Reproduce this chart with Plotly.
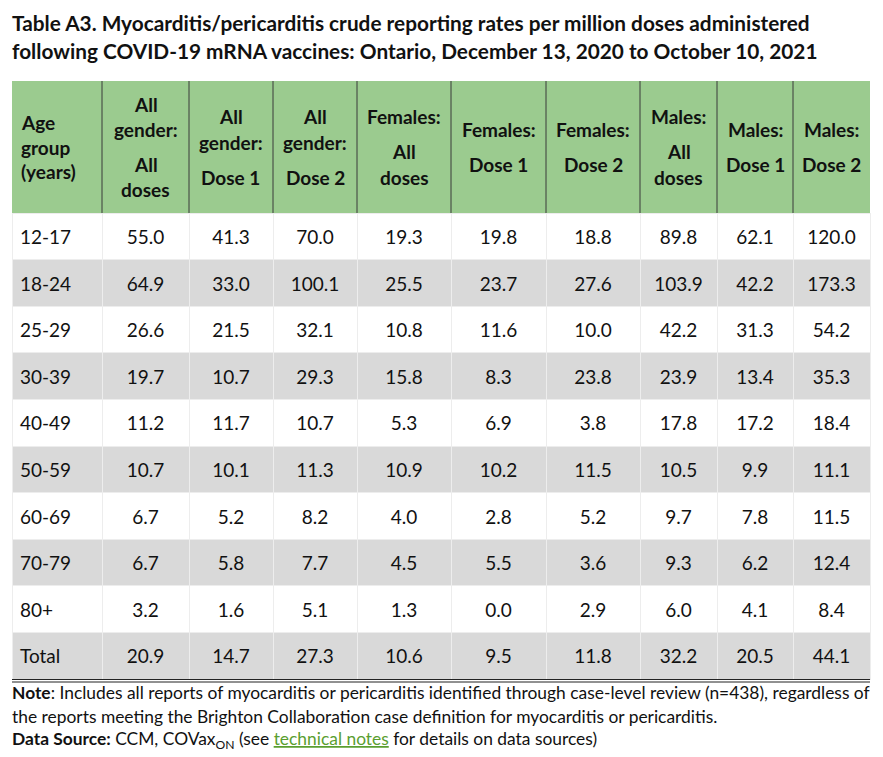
import plotly.graph_objects as go

# ---------------- data ----------------
age_groups = ["12-17", "18-24", "25-29", "30-39", "40-49", "50-59", "60-69", "70-79", "80+", "Total"]
all_gender_all_doses = [55.0, 64.9, 26.6, 19.7, 11.2, 10.7, 6.7, 6.7, 3.2, 20.9]
all_gender_dose1 = [41.3, 33.0, 21.5, 10.7, 11.7, 10.1, 5.2, 5.8, 1.6, 14.7]
all_gender_dose2 = [70.0, 100.1, 32.1, 29.3, 10.7, 11.3, 8.2, 7.7, 5.1, 27.3]
females_all_doses = [19.3, 25.5, 10.8, 15.8, 5.3, 10.9, 4.0, 4.5, 1.3, 10.6]
females_dose1 = [19.8, 23.7, 11.6, 8.3, 6.9, 10.2, 2.8, 5.5, 0.0, 9.5]
females_dose2 = [18.8, 27.6, 10.0, 23.8, 3.8, 11.5, 5.2, 3.6, 2.9, 11.8]
males_all_doses = [89.8, 103.9, 42.2, 23.9, 17.8, 10.5, 9.7, 9.3, 6.0, 32.2]
males_dose1 = [62.1, 42.2, 31.3, 13.4, 17.2, 9.9, 7.8, 6.2, 4.1, 20.5]
males_dose2 = [120.0, 173.3, 54.2, 35.3, 18.4, 11.1, 11.5, 12.4, 8.4, 44.1]

# header labels: paragraphs of lines
header_labels = [
    [["Age", "group", "(years)"]],
    [["All", "gender:"], ["All", "doses"]],
    [["All", "gender:"], ["Dose 1"]],
    [["All", "gender:"], ["Dose 2"]],
    [["Females:"], ["All", "doses"]],
    [["Females:"], ["Dose 1"]],
    [["Females:"], ["Dose 2"]],
    [["Males:"], ["All", "doses"]],
    [["Males:"], ["Dose 1"]],
    [["Males:"], ["Dose 2"]],
]

title_lines = [
    "Table A3. Myocarditis/pericarditis crude reporting rates per million doses administered",
    "following COVID-19 mRNA vaccines: Ontario, December 13, 2020 to October 10, 2021",
]
note_lines = [
    "<b>Note</b>: Includes all reports of myocarditis or pericarditis identified through case-level review (n=438), regardless of",
    "the reports meeting the Brighton Collaboration case definition for myocarditis or pericarditis.",
    "<b>Data Source:</b> CCM, COVax<sub>ON</sub> (see <span style='color:#5A9E2F;text-decoration:underline'>technical notes</span> for details on data sources)",
]

# ---------------- layout constants ----------------
OFF = 8                      # page margin of the html body
W, H = 883 - OFF, 757 - OFF
FONT = "Lato, Calibri, Carlito, sans-serif"
col_px = [90, 87, 84, 84, 94, 95, 94, 77, 76, 77]
tbl_left, tbl_top = 12, 81
header_h = 132
row_h = 46.6
n_rows = len(age_groups)
tbl_right = tbl_left + sum(col_px)
tbl_bottom = tbl_top + header_h + row_h * n_rows

GREEN = "#9BCB8F"
GRAY = "#D9D9D9"
BODY_SIZE = 19
LEAD_SIZE = 10

def px_x(x):
    return (x - OFF) / W

def px_y(y):
    return 1 - (y - OFF) / H

row_fill = [("white" if i % 2 == 0 else GRAY) for i in range(n_rows)]

num_columns = [all_gender_all_doses, all_gender_dose1, all_gender_dose2,
               females_all_doses, females_dose1, females_dose2,
               males_all_doses, males_dose1, males_dose2]

def cell_text(s):
    # a small blank leading line pushes the value down to the middle of the row
    return "&nbsp;<br><span style='font-size:%spx'>%s</span>" % (BODY_SIZE, s)

columns = [[cell_text(a) for a in age_groups]] + \
          [[cell_text("%.1f" % v) for v in col] for col in num_columns]

fig = go.Figure()
fig.add_trace(go.Table(
    domain=dict(x=[px_x(tbl_left), px_x(tbl_right)], y=[px_y(tbl_bottom + 2), px_y(tbl_top)]),
    columnwidth=col_px,
    header=dict(
        values=[" "] * len(columns),
        fill_color=GREEN,
        line=dict(color=GREEN, width=0),
        height=header_h,
    ),
    cells=dict(
        values=columns,
        align=["left"] + ["center"] * 9,
        fill_color=[row_fill] * len(columns),
        line=dict(color="#EDEDED", width=1),
        font=dict(family=FONT, size=LEAD_SIZE, color="#111111"),
        height=row_h,
    ),
))

# header labels as text
annotations = []
LINE_GAP, PARA_GAP = 25, 35
hdr_mid = tbl_top + header_h / 2
x_cursor = tbl_left
for ci, paras in enumerate(header_labels):
    w = col_px[ci]
    gaps = []
    for pi, para in enumerate(paras):
        for li, _ in enumerate(para):
            if pi == 0 and li == 0:
                continue
            gaps.append(PARA_GAP if li == 0 else LINE_GAP)
    span = sum(gaps)
    y = hdr_mid - span / 2
    k = 0
    for pi, para in enumerate(paras):
        for li, line in enumerate(para):
            if not (pi == 0 and li == 0):
                y += gaps[k]
                k += 1
            if ci == 0:
                ax, anc = x_cursor + 7, "left"
            else:
                ax, anc = x_cursor + w / 2, "center"
            annotations.append(dict(
                x=px_x(ax), y=px_y(y), xref="paper", yref="paper",
                text="<b>" + line + "</b>", showarrow=False,
                xanchor=anc, yanchor="middle",
                font=dict(family=FONT, size=19, color="#111111"),
            ))
    x_cursor += w

for i, t in enumerate(title_lines):
    annotations.append(dict(
        x=px_x(10), y=px_y(22 + 28 * i), xref="paper", yref="paper",
        text="<b>" + t + "</b>", showarrow=False, xanchor="left", yanchor="middle",
        font=dict(family=FONT, size=20.8, color="#111111"),
    ))

for i, t in enumerate(note_lines):
    annotations.append(dict(
        x=px_x(10), y=px_y(692 + 24 * i), xref="paper", yref="paper",
        text=t, showarrow=False, xanchor="left", yanchor="middle",
        font=dict(family=FONT, size=17.4, color="#111111"),
    ))

# header vertical separators and bottom double rule
shapes = []
x_cursor = tbl_left
for w in col_px[:-1]:
    x_cursor += w
    shapes.append(dict(type="line", xref="paper", yref="paper",
                       x0=px_x(x_cursor), x1=px_x(x_cursor),
                       y0=px_y(tbl_top), y1=px_y(tbl_top + header_h),
                       line=dict(color="#3A3A3A", width=1)))
for dy in (0.5, 3):
    shapes.append(dict(type="line", xref="paper", yref="paper",
                       x0=px_x(tbl_left), x1=px_x(tbl_right),
                       y0=px_y(tbl_bottom + dy), y1=px_y(tbl_bottom + dy),
                       line=dict(color="#222222", width=1)))

fig.update_layout(
    width=W, height=H,
    margin=dict(l=0, r=0, t=0, b=0),
    paper_bgcolor="white",
    font=dict(family=FONT),
    annotations=annotations,
    shapes=shapes,
)

fig.write_html("out.html")
